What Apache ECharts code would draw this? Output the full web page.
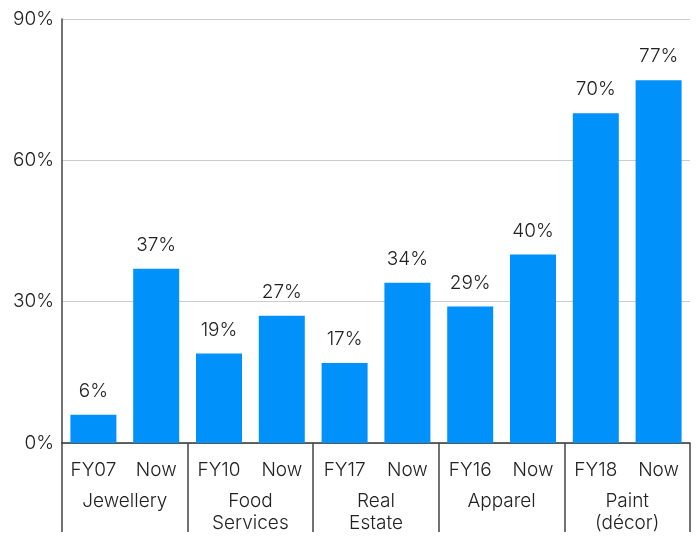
<!DOCTYPE html>
<html><head><meta charset="utf-8">
<script src="https://cdn.jsdelivr.net/npm/echarts@6/dist/echarts.min.js"></script>
<style>html,body{margin:0;padding:0;background:#fff}#c{width:697px;height:538px}</style>
</head><body><div id="c"></div>
<script>
const periods = ['FY07','Now','FY10','Now','FY17','Now','FY16','Now','FY18','Now'];
const groups = ['Jewellery','Food\nServices','Real\nEstate','Apparel','Paint\n(décor)'];
const values = [6,37,19,27,17,34,29,40,70,77];
const yTicks = [0,30,60,90];

const font = 'Inter, Roboto, sans-serif';
const chart = echarts.init(document.getElementById('c'));
chart.setOption({
  animation:false,
  grid:{left:62,right:7,top:19,bottom:95},
  xAxis:[{
    type:'category', data:periods,
    axisLine:{show:false}, axisTick:{show:false},
    axisLabel:{color:'#222', fontSize:19, fontWeight:300, fontFamily:font, margin:18, interval:0}
  },{
    type:'category', data:groups, position:'bottom',
    axisLine:{show:true, lineStyle:{color:'#333', width:1.5}},
    axisTick:{show:true, interval:0, length:89, lineStyle:{color:'#444', width:1.5}},
    axisLabel:{color:'#222', fontSize:19, fontWeight:300, fontFamily:font, margin:47, lineHeight:22, interval:0}
  }],
  yAxis:{
    type:'value', min:0, max:90, interval:30,
    axisLine:{show:true, lineStyle:{color:'#444', width:1.5}},
    axisTick:{show:false},
    splitLine:{lineStyle:{color:'#ccc'}},
    axisLabel:{formatter:v=>v+'%', color:'#222', fontSize:19, fontWeight:300, fontFamily:font, margin:8}
  },
  series:[{
    type:'bar', data:values, xAxisIndex:0, barWidth:46,
    itemStyle:{color:'#0091FA'},
    label:{show:true, position:'top', distance:14, formatter:p=>p.value+'%', color:'#222', fontSize:19, fontWeight:300, fontFamily:font}
  }]
});
</script></body></html>
